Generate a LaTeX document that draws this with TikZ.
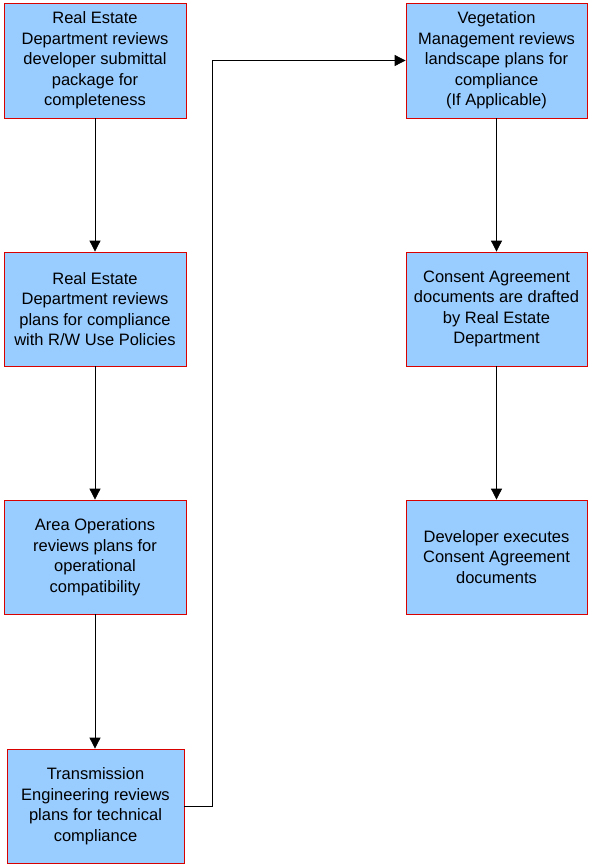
\documentclass[tikz,border=0pt]{standalone}
\usepackage{fontspec}
\setmainfont{Liberation Sans}
\usetikzlibrary{arrows.meta}
\begin{document}
\begin{tikzpicture}[x=1pt,y=-1pt,
  box/.style={draw=red!85!black, line width=0.8pt, fill={rgb,255:red,153;green,204;blue,255},
    align=center, inner sep=0pt, font=\fontsize{16.5}{20.5}\selectfont, text=black},
  conn/.style={draw=black, line width=0.8pt, -{Triangle[length=11pt,width=11pt]}}]
\useasboundingbox (0,0) rectangle (589,865);
\node[box, minimum width=182pt, minimum height=115pt] (a) at (95,60.5) {Real Estate\\Department reviews\\developer submittal\\package for\\completeness};
\node[box, minimum width=182pt, minimum height=114pt] (b) at (95,309) {Real Estate\\Department reviews\\plans for compliance\\with R/W Use Policies};
\node[box, minimum width=182pt, minimum height=114pt] (c) at (95,557) {Area Operations\\reviews plans for\\operational\\compatibility};
\node[box, minimum width=177pt, minimum height=114pt] (d) at (95.5,806) {Transmission\\Engineering reviews\\plans for technical\\compliance};
\node[box, minimum width=181pt, minimum height=115pt] (e) at (496.5,60.5) {Vegetation\\Management reviews\\landscape plans for\\compliance\\(If Applicable)};
\node[box, minimum width=181pt, minimum height=114pt] (f) at (496.5,309) {Consent Agreement\\documents are drafted\\by Real Estate\\Department};
\node[box, minimum width=181pt, minimum height=114pt] (g) at (496.5,557) {Developer executes\\Consent Agreement\\documents};
\draw[conn] (a) -- (b);
\draw[conn] (b) -- (c);
\draw[conn] (c.south) -- (c.south |- d.north);
\draw[conn] (d.east) -- (212,806) |- (e.west);
\draw[conn] (e) -- (f);
\draw[conn] (f) -- (g);
\end{tikzpicture}
\end{document}
